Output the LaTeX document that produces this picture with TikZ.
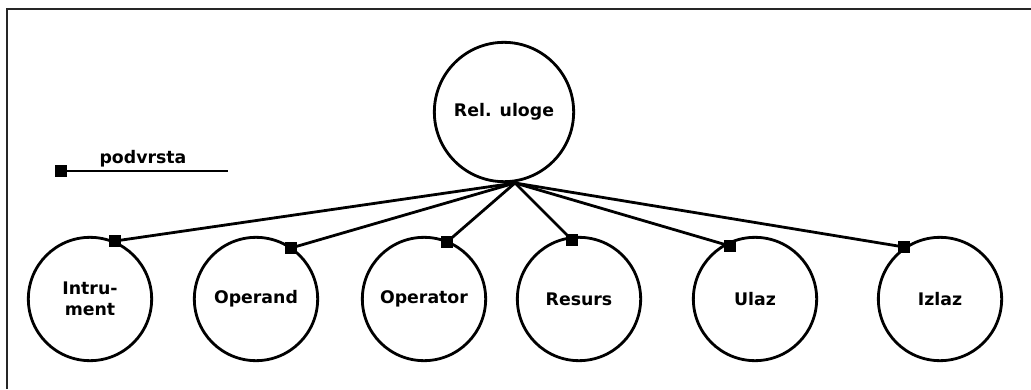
\documentclass[tikz,border=0pt]{standalone}
\usepackage{fontspec}
\setmainfont{DejaVu Sans}
\begin{document}
\begin{tikzpicture}[x=0.75pt,y=-0.75pt,
  lbl/.style={font=\bfseries\fontsize{13}{15.5}\selectfont},
  kid/.style={circle,draw,line width=2.1pt,minimum size=92.5pt,inner sep=0pt,align=center,lbl},
  root/.style={circle,draw,line width=2.1pt,minimum size=104.5pt,inner sep=0pt,lbl},
  sq/.style={rectangle,fill=black,minimum size=8.5pt,inner sep=0pt},
  link/.style={line width=2.1pt}]
\useasboundingbox (0,0) rectangle (1031,389);
\draw[line width=1.1pt,black!85] (7,389) -- (7,9) -- (1031,9);
\node[root] (rel) at (504,112) {Rel. uloge};
\coordinate (hub) at (515,183);
\node[kid] (ins) at (90,299) {Intru-\\ment};
\node[kid] (opd) at (256,299) {Operand};
\node[kid] (opr) at (424,299) {Operator};
\node[kid] (res) at (579,299) {Resurs};
\node[kid] (ula) at (755,299) {Ulaz};
\node[kid] (izl) at (940,299) {Izlaz};
\node[sq] (s1) at (115,241) {};
\node[sq] (s2) at (291,248) {};
\node[sq] (s3) at (447,242) {};
\node[sq] (s4) at (572,240) {};
\node[sq] (s5) at (730,246) {};
\node[sq] (s6) at (904,247) {};
\foreach \s in {s1,s2,s3,s4,s5,s6} \draw[link] (hub) -- (\s.center);
\node[sq] (ls) at (61,171) {};
\coordinate (le) at (228,171);
\draw[link] (ls.center) -- (le);
\node[lbl] (lt) at (143,159) {podvrsta};
\end{tikzpicture}
\end{document}
